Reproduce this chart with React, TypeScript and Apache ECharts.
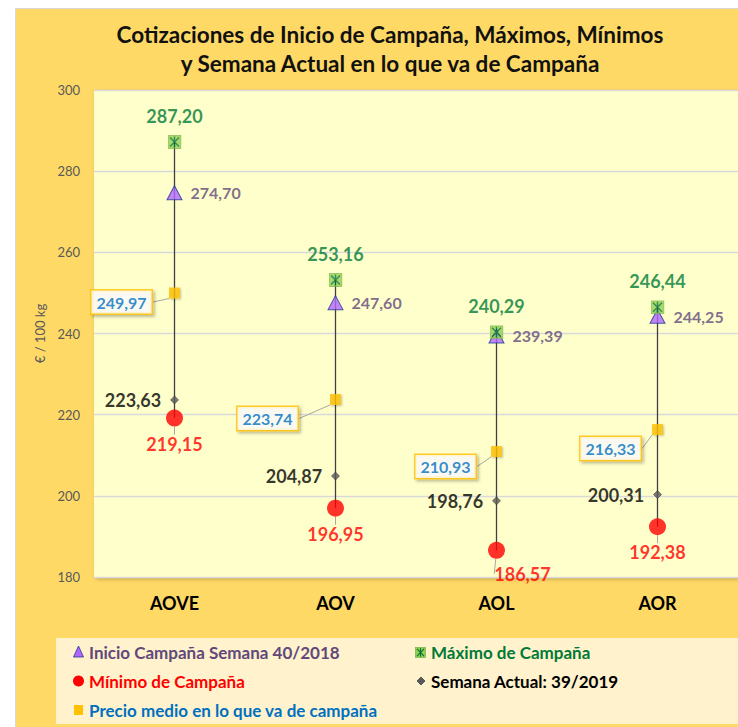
import React, { useEffect, useRef } from "react";
import * as echarts from "echarts";

const categories = ["AOVE", "AOV", "AOL", "AOR"];
const inicio = [274.7, 247.6, 239.39, 244.25];
const maximo = [287.2, 253.16, 240.29, 246.44];
const minimo = [219.15, 196.95, 186.57, 192.38];
const semana = [223.63, 204.87, 198.76, 200.31];
const medio = [249.97, 223.74, 210.93, 216.33];
const yTicks = { min: 180, max: 300, interval: 20 };

const FONT = "Lato, 'Open Sans', sans-serif";
const fmt = (v: number) => v.toFixed(2).replace(".", ",");

const maxSvg =
  "<svg xmlns='http://www.w3.org/2000/svg' width='28' height='28' viewBox='0 0 14 14'>" +
  "<rect x='0.5' y='0.5' width='13' height='13' fill='#92D050' stroke='#70AD47' stroke-width='0.8'/>" +
  "<path d='M2.5 2.5L11.5 11.5M11.5 2.5L2.5 11.5M7 1.5V12.5' stroke='#00703C' stroke-width='1.4' fill='none'/></svg>";
const maxUrl = "data:image/svg+xml;charset=utf-8," + encodeURIComponent(maxSvg);
const maxSymbol = "image://" + maxUrl;

const medioDx = [-53, -68, -51, -47];
const medioDy = [9, 19, 15, 19];

export default function App() {
  const ref = useRef<HTMLDivElement>(null);
  useEffect(() => {
    if (!ref.current) return;
    const chart = echarts.init(ref.current, undefined, { renderer: "svg" });
    const legendY = [652, 681, 710];
    const option: any = {
      animation: false,
      backgroundColor: "#FFFFFF",
      textStyle: { fontFamily: FONT },
      graphic: [
        {
          type: "rect",
          z: -10,
          silent: true,
          shape: { x: 15.5, y: 8.5, width: 740, height: 730 },
          style: { fill: "#FFD966", stroke: "#D9D9D9", lineWidth: 1 },
        },
        {
          type: "rect",
          z: -9,
          silent: true,
          shape: { x: 56, y: 638, width: 700, height: 86 },
          style: { fill: "#FFF2CC" },
        },
        {
          type: "text",
          x: 390,
          y: 48.5,
          style: {
            text: "Cotizaciones de Inicio de Campaña, Máximos, Mínimos\ny Semana Actual en lo que va de Campaña",
            font: `bold 22.5px ${FONT}`,
            fill: "#111111",
            align: "center",
            verticalAlign: "middle",
            lineHeight: 29,
          },
        },
        // legend markers
        {
          type: "polygon",
          shape: { points: [[78.5, 646], [73.5, 657], [83.5, 657]] },
          style: { fill: "#B266FF", stroke: "#1F3A93", lineWidth: 0.8 },
        },
        {
          type: "image",
          style: { image: maxUrl, x: 415, y: 647, width: 11, height: 11 },
        },
        {
          type: "circle",
          shape: { cx: 78.5, cy: legendY[1], r: 5.5 },
          style: { fill: "#FF0000" },
        },
        {
          type: "polygon",
          shape: { points: [[421, 677], [425, 681], [421, 685], [417, 681]] },
          style: { fill: "#595959", stroke: "#222", lineWidth: 0.6 },
        },
        {
          type: "rect",
          shape: { x: 74, y: 705, width: 9, height: 10 },
          style: { fill: "#FFC000" },
        },
        ...[
          { x: 89, y: legendY[0], t: "Inicio Campaña Semana 40/2018", c: "#60497A" },
          { x: 431, y: legendY[0], t: "Máximo de Campaña", c: "#007A37" },
          { x: 89, y: legendY[1], t: "Mínimo de Campaña", c: "#FF0000" },
          { x: 431, y: legendY[1], t: "Semana Actual: 39/2019", c: "#000000" },
          { x: 89, y: legendY[2], t: "Precio medio en lo que va de campaña", c: "#0070C0" },
        ].map((it) => ({
          type: "text",
          x: it.x,
          y: it.y,
          style: {
            text: it.t,
            font: `bold 17px ${FONT}`,
            fill: it.c,
            verticalAlign: "middle",
          },
        })),
      ],
      grid: {
        left: 94,
        top: 90,
        width: 646,
        height: 487,
        show: true,
        backgroundColor: "#FFFFCC",
        borderWidth: 0,
        shadowColor: "rgba(0,0,0,0.25)",
        shadowBlur: 4,
        shadowOffsetX: 2,
        shadowOffsetY: 2,
      },
      xAxis: {
        type: "category",
        data: categories,
        boundaryGap: true,
        axisLine: { show: false },
        axisTick: { show: false },
        axisLabel: {
          margin: 17,
          fontSize: 18,
          fontWeight: "bold",
          color: "#000000",
          fontFamily: FONT,
        },
      },
      yAxis: {
        type: "value",
        min: yTicks.min,
        max: yTicks.max,
        interval: yTicks.interval,
        name: "€ / 100 kg",
        nameLocation: "middle",
        nameGap: 44,
        nameTextStyle: { color: "#595959", fontSize: 13, fontFamily: FONT },
        axisLine: { show: false },
        axisTick: { show: false },
        axisLabel: { color: "#595959", fontSize: 13, margin: 14, fontFamily: FONT },
        splitLine: { lineStyle: { color: "#D9D9D9", width: 1.3 } },
      },
      series: [
        {
          type: "custom",
          name: "hilo",
          silent: true,
          z: 1,
          data: categories.map((_, i) => [i, maximo[i], minimo[i]]),
          renderItem: (params: any, api: any) => {
            const p1 = api.coord([api.value(0), api.value(1)]);
            const p2 = api.coord([api.value(0), api.value(2)]);
            return {
              type: "line",
              shape: { x1: p1[0], y1: p1[1], x2: p2[0], y2: p2[1] },
              style: { stroke: "#404040", lineWidth: 1.3 },
            };
          },
        },
        {
          type: "scatter",
          name: "Mínimo de Campaña",
          z: 3,
          data: minimo,
          symbol: "circle",
          symbolSize: 17,
          itemStyle: { color: "#FF0000" },
          label: {
            show: true,
            position: "bottom",
            distance: 8,
            formatter: (p: any) => fmt(p.value),
            color: "#FF0000",
            fontSize: 18,
            fontWeight: "bold",
            fontFamily: FONT,
          },
          labelLayout: (p: any) => (p.dataIndex === 2 ? { dx: 26, dy: -2 } : {}),
          labelLine: { show: true, lineStyle: { color: "#A6A6A6", width: 1 } },
        },
        {
          type: "scatter",
          name: "Semana Actual",
          z: 4,
          data: semana,
          symbol: "diamond",
          symbolSize: 8,
          itemStyle: { color: "#595959", borderColor: "#222222", borderWidth: 0.6 },
          label: {
            show: true,
            position: "left",
            distance: 9,
            formatter: (p: any) => fmt(p.value),
            color: "#000000",
            fontSize: 18,
            fontWeight: "bold",
            fontFamily: FONT,
          },
        },
        {
          type: "scatter",
          name: "Precio medio",
          z: 5,
          data: medio,
          symbol: "rect",
          symbolSize: 11,
          itemStyle: {
            color: "#FFC000",
            shadowColor: "rgba(0,0,0,0.3)",
            shadowBlur: 2,
            shadowOffsetX: 1,
            shadowOffsetY: 1,
          },
          label: {
            show: true,
            position: "inside",
            formatter: (p: any) => fmt(p.value),
            color: "#0070C0",
            fontSize: 16,
            fontWeight: "bold",
            fontFamily: FONT,
            backgroundColor: "#FFFFFF",
            borderColor: "#FFC000",
            borderWidth: 1.5,
            padding: [4, 5, 3, 5],
            shadowColor: "rgba(0,0,0,0.3)",
            shadowBlur: 3,
            shadowOffsetX: 2,
            shadowOffsetY: 2,
          },
          labelLayout: (p: any) => ({ dx: medioDx[p.dataIndex], dy: medioDy[p.dataIndex] }),
          labelLine: { show: true, lineStyle: { color: "#A6A6A6", width: 1 } },
        },
        {
          type: "scatter",
          name: "Inicio Campaña",
          z: 6,
          data: inicio,
          symbol: "triangle",
          symbolSize: [15, 14],
          itemStyle: { color: "#B266FF", borderColor: "#1F3A93", borderWidth: 1 },
          label: {
            show: true,
            position: "right",
            distance: 8,
            formatter: (p: any) => fmt(p.value),
            color: "#60497A",
            fontSize: 16,
            fontWeight: "bold",
            fontFamily: FONT,
          },
        },
        {
          type: "scatter",
          name: "Máximo de Campaña",
          z: 7,
          data: maximo,
          symbol: maxSymbol,
          symbolSize: 14,
          label: {
            show: true,
            position: "top",
            distance: 10,
            formatter: (p: any) => fmt(p.value),
            color: "#007A37",
            fontSize: 18,
            fontWeight: "bold",
            fontFamily: FONT,
          },
        },
      ],
    };
    chart.setOption(option);
    return () => chart.dispose();
  }, []);
  return (
    <div
      ref={ref}
      style={{ position: "fixed", left: 0, top: 0, width: 738, height: 727 }}
    />
  );
}
